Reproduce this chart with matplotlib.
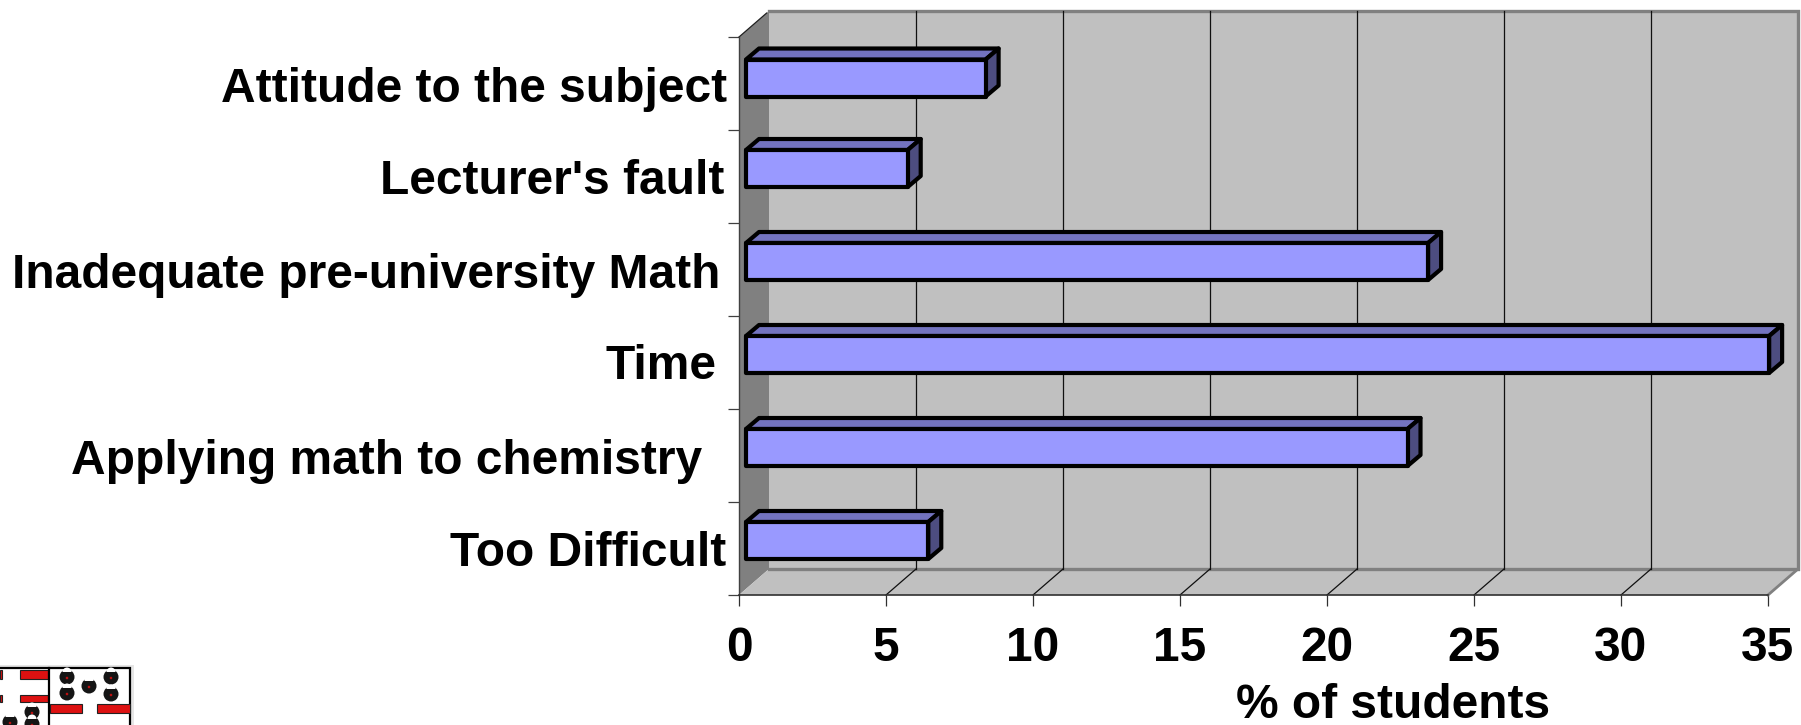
import matplotlib
matplotlib.use("Agg")
import matplotlib.pyplot as plt
from matplotlib.patches import Polygon, Rectangle, Circle, Wedge

categories = ["Too Difficult", "Applying math to chemistry", "Time",
              "Inadequate pre-university Math", "Lecturer's fault", "Attitude to the subject"]
values = [6.2, 22.5, 34.8, 23.2, 5.5, 8.15]
x_ticks = [0, 5, 10, 15, 20, 25, 30, 35]
x_label = "% of students"
label_right_px = [726, 702, 716, 720, 724, 727]
label_center_px = [553, 461, 366, 276, 182, 90]
bar_nudge_px = [0, 0, 0, 0, 0, -2.5]

W, H = 1801, 725
L, R, T, B = 739, 1768, 37, 595
FS = 34.5
plt.rcParams['font.family'] = ['Liberation Sans', 'DejaVu Sans']
plt.rcParams['font.weight'] = 'bold'

fig = plt.figure(figsize=(W/100, H/100), dpi=100, facecolor='white')
ax = fig.add_axes([L/W, 1-B/H, (R-L)/W, (B-T)/H])
ax.set_xlim(0, 35)
ax.set_ylim(0, 6)
ax.patch.set_visible(False)
xu = (R-L)/35
yu = (B-T)/6
def dx(p): return p/xu
def dy(p): return p/yu

WX, WY = dx(30), dy(26)
GRAY, WALL = '#808080', '#C0C0C0'
def poly(pts, fc, ec='none', lw=0, z=1, join='round'):
    ax.add_patch(Polygon(pts, closed=True, facecolor=fc, edgecolor=ec, linewidth=lw,
                         joinstyle=join, clip_on=False, zorder=z))
# back wall, side wall, floor
poly([(WX, WY), (35+WX, WY), (35+WX, 6+WY), (WX, 6+WY)], WALL, z=1)
poly([(0, 0), (WX, WY), (WX, 6+WY), (0, 6)], GRAY, z=1)
poly([(0, 0), (35, 0), (35+WX, WY), (WX, WY)], WALL, z=1)
ax.plot([WX, 35+WX, 35+WX, WX], [6+WY, 6+WY, WY, WY], color=GRAY, lw=2.4, clip_on=False, zorder=2,
        solid_joinstyle='miter')
ax.plot([35, 35+WX], [0, WY], color=GRAY, lw=2.0, clip_on=False, zorder=2)
ax.plot([0, WX*0.92], [6, 6+WY*0.92], color='#202020', lw=0.9, clip_on=False, zorder=3)
# gridlines
for t in x_ticks[1:-1]:
    ax.plot([t+WX, t+WX], [WY, 6+WY], color='#101010', lw=0.9, clip_on=False, zorder=3)
    ax.plot([t, t+WX], [0, WY], color='#101010', lw=0.9, clip_on=False, zorder=3)

# bars
BX, BY = dx(7), dy(6)
DX, DY = dx(13), dy(11)
HH = dy(37)/2
for i, v in enumerate(values):
    c = i + 0.5 + BY + dy(2) + dy(bar_nudge_px[i])
    x0, x1 = BX, BX + v
    y0, y1 = c - HH, c + HH
    kw = dict(ec='black', lw=3.0, z=5)
    poly([(x0, y1), (x1, y1), (x1+DX, y1+DY), (x0+DX, y1+DY)], '#7373BF', **kw)
    poly([(x1, y0), (x1+DX, y0+DY), (x1+DX, y1+DY), (x1, y1)], '#4D4D80', **kw)
    poly([(x0, y0), (x1, y0), (x1, y1), (x0, y1)], '#9999FF', **kw)

# axes
for s in ['top', 'right']:
    ax.spines[s].set_visible(False)
ax.spines['left'].set_color('#404040')
ax.spines['bottom'].set_color('#303030')
ax.spines['left'].set_linewidth(1.0)
ax.spines['bottom'].set_linewidth(1.2)
for s in ax.spines.values():
    s.set_zorder(6)
ax.set_yticks(range(7))
ax.set_yticklabels([])
ax.tick_params(axis='y', length=8, width=0.9, color='#404040')
ax.set_xticks(x_ticks)
ax.set_xticklabels([str(t) for t in x_ticks], fontsize=FS, fontweight='bold')
ax.tick_params(axis='x', length=8, width=0.9, color='#303030', pad=14)
ax.set_xlabel(x_label, fontsize=FS, fontweight='bold', labelpad=1)
ax.xaxis.set_label_coords((1393-L)/(R-L), 1-(706-T)/(B-T), transform=ax.transAxes)
ax.xaxis.label.set_va('center')

# category labels
for name, rp, cp in zip(categories, label_right_px, label_center_px):
    fig.text(rp/W, 1-cp/H, name, ha='right', va='center', fontsize=FS, fontweight='bold', color='black')

# crest in the corner, in pixel coordinates
lg = fig.add_axes([0, 0, 150/W, 70/H])
lg.set_xlim(0, 150); lg.set_ylim(725, 655); lg.axis('off')
lg.add_patch(Rectangle((0, 665), 134, 62, fc='#E6E6E6', ec='none'))
lg.add_patch(Rectangle((-2, 668), 132, 60, fc='white', ec='black', lw=1.6))
lg.plot([49, 49], [668, 725], color='black', lw=1.6)
for rx, ry, rw, rh in [(0, 670, 2, 9), (20, 670, 28, 9), (0, 695, 2, 7), (20, 695, 28, 7),
                       (50, 704, 32, 9), (97, 704, 33, 9)]:
    lg.add_patch(Rectangle((rx, ry), rw, rh, fc='#DD1111', ec='#222222', lw=0.8))
for cx, cy in [(67, 677), (67, 693), (89, 686), (111, 677), (111, 694), (32, 712), (10, 722), (32, 724)]:
    lg.add_patch(Circle((cx, cy), 7.5, fc='#151515', ec='none'))
    lg.add_patch(Wedge((cx, cy-5), 4.5, 180, 360, fc='white', ec='none'))
    lg.add_patch(Circle((cx, cy+1), 1.3, fc='#BB1111', ec='none'))

fig.savefig('out.png', dpi=100, facecolor='white')
